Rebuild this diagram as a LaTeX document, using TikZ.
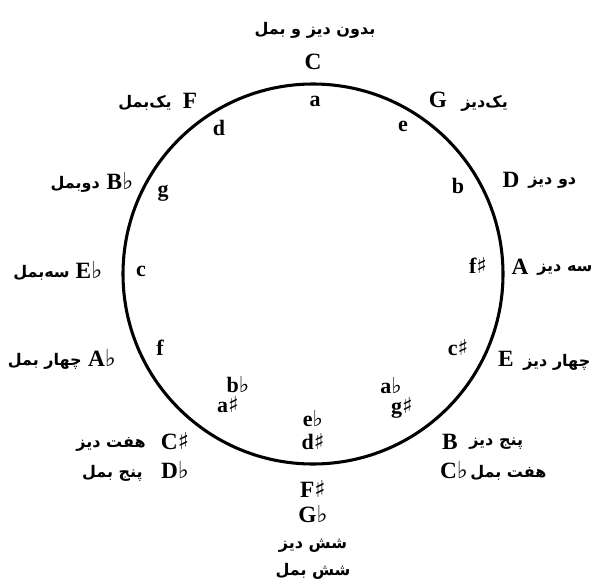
\documentclass[tikz,border=0pt]{standalone}
\usepackage{fontspec}
\setmainfont{Liberation Serif}
\newfontfamily\farsi[Script=Arabic]{DejaVu Sans}
\newfontfamily\musym{DejaVu Sans}
\TeXXeTstate=1
\newcommand\fa[1]{{\farsi\beginR #1\endR}}
\newcommand\shp{{\musym\bfseries\char"266F}}
\newcommand\flt{{\musym\bfseries\char"266D}}
\begin{document}
\begin{tikzpicture}[x=0.75pt,y=-0.75pt,
  major/.style={font=\fontsize{17.5}{17}\selectfont\bfseries, inner sep=0pt},
  minor/.style={font=\fontsize{16.5}{16}\selectfont\bfseries, inner sep=0pt},
  pers/.style={font=\farsi\bfseries\fontsize{12}{12}\selectfont, inner sep=0pt},
  ring/.style={draw, circle, line width=2.3pt, minimum size=285pt, inner sep=0pt}]
\path[use as bounding box] (0,0) rectangle (596,585);
\node[ring] (ring) at (313,274) {};
% top
\node[pers] (t0) at (315,30) {\fa{بدون دیز و بمل}};
\node[major] (C) at (313,62) {C};
\node[minor] (a) at (315,101) {a};
% F
\node[major] (F) at (190,101) {F};
\node[pers, anchor=east] (tF) at (172,103) {\fa{یک‌بمل}};
\node[minor] (d) at (219,128) {d};
% G
\node[major] (G) at (438,100) {G};
\node[pers, anchor=west] (tG) at (461,103) {\fa{یک‌دیز}};
\node[minor] (e) at (403,126) {e};
% D
\node[major] (D) at (511,180) {D};
\node[pers, anchor=west] (tD) at (528,183) {\fa{دو دیز}};
\node[minor] (b) at (458,186) {b};
% Bb
\node[major] (Bb) at (120,181) {B\flt};
\node[pers, anchor=east] (tBb) at (100,184) {\fa{دوبمل}};
\node[minor] (g) at (163,193) {g};
% Eb
\node[major] (Eb) at (89,270) {E\flt};
\node[pers, anchor=east] (tEb) at (70,273) {\fa{سه‌بمل}};
\node[minor] (c) at (141,271) {c};
% A
\node[major] (A) at (520,267) {A};
\node[pers, anchor=west] (tA) at (537,270) {\fa{سه دیز}};
\node[minor] (fs) at (478,265) {f\shp};
% Ab
\node[major] (Ab) at (102,358) {A\flt};
\node[pers, anchor=east] (tAb) at (82,361) {\fa{چهار بمل}};
\node[minor] (f) at (160,348) {f};
% E
\node[major] (E) at (506,359) {E};
\node[pers, anchor=west] (tE) at (523,362) {\fa{چهار دیز}};
\node[minor] (cs) at (458,348) {c\shp};
% bb / a#
\node[minor] (bb) at (238,385) {b\flt};
\node[minor] (as) at (228,405) {a\shp};
% ab / g#
\node[minor] (ab) at (391,386) {a\flt};
\node[minor] (gs) at (402,408) {g\shp};
% eb / d#
\node[minor] (eb) at (313,419) {e\flt};
\node[minor] (ds) at (313,442) {d\shp};
% C# / Db
\node[major] (Cs) at (175,441) {C\shp};
\node[pers, anchor=east] (tCs) at (146,444) {\fa{هفت دیز}};
\node[major] (Db) at (175,470) {D\flt};
\node[pers, anchor=east] (tDb) at (143,473) {\fa{پنج بمل}};
% B / Cb
\node[major] (B) at (450,442) {B};
\node[pers, anchor=west] (tB) at (469,444) {\fa{پنج دیز}};
\node[major] (Cb) at (454,470) {C\flt};
\node[pers, anchor=west] (tCb) at (470,473) {\fa{هفت بمل}};
% F# / Gb
\node[major] (Fs) at (313,489) {F\shp};
\node[major] (Gb) at (313,514) {G\flt};
\node[pers] (tFs) at (313,546) {\fa{شش دیز}};
\node[pers] (tGb) at (313,571) {\fa{شش بمل}};
\end{tikzpicture}
\end{document}
